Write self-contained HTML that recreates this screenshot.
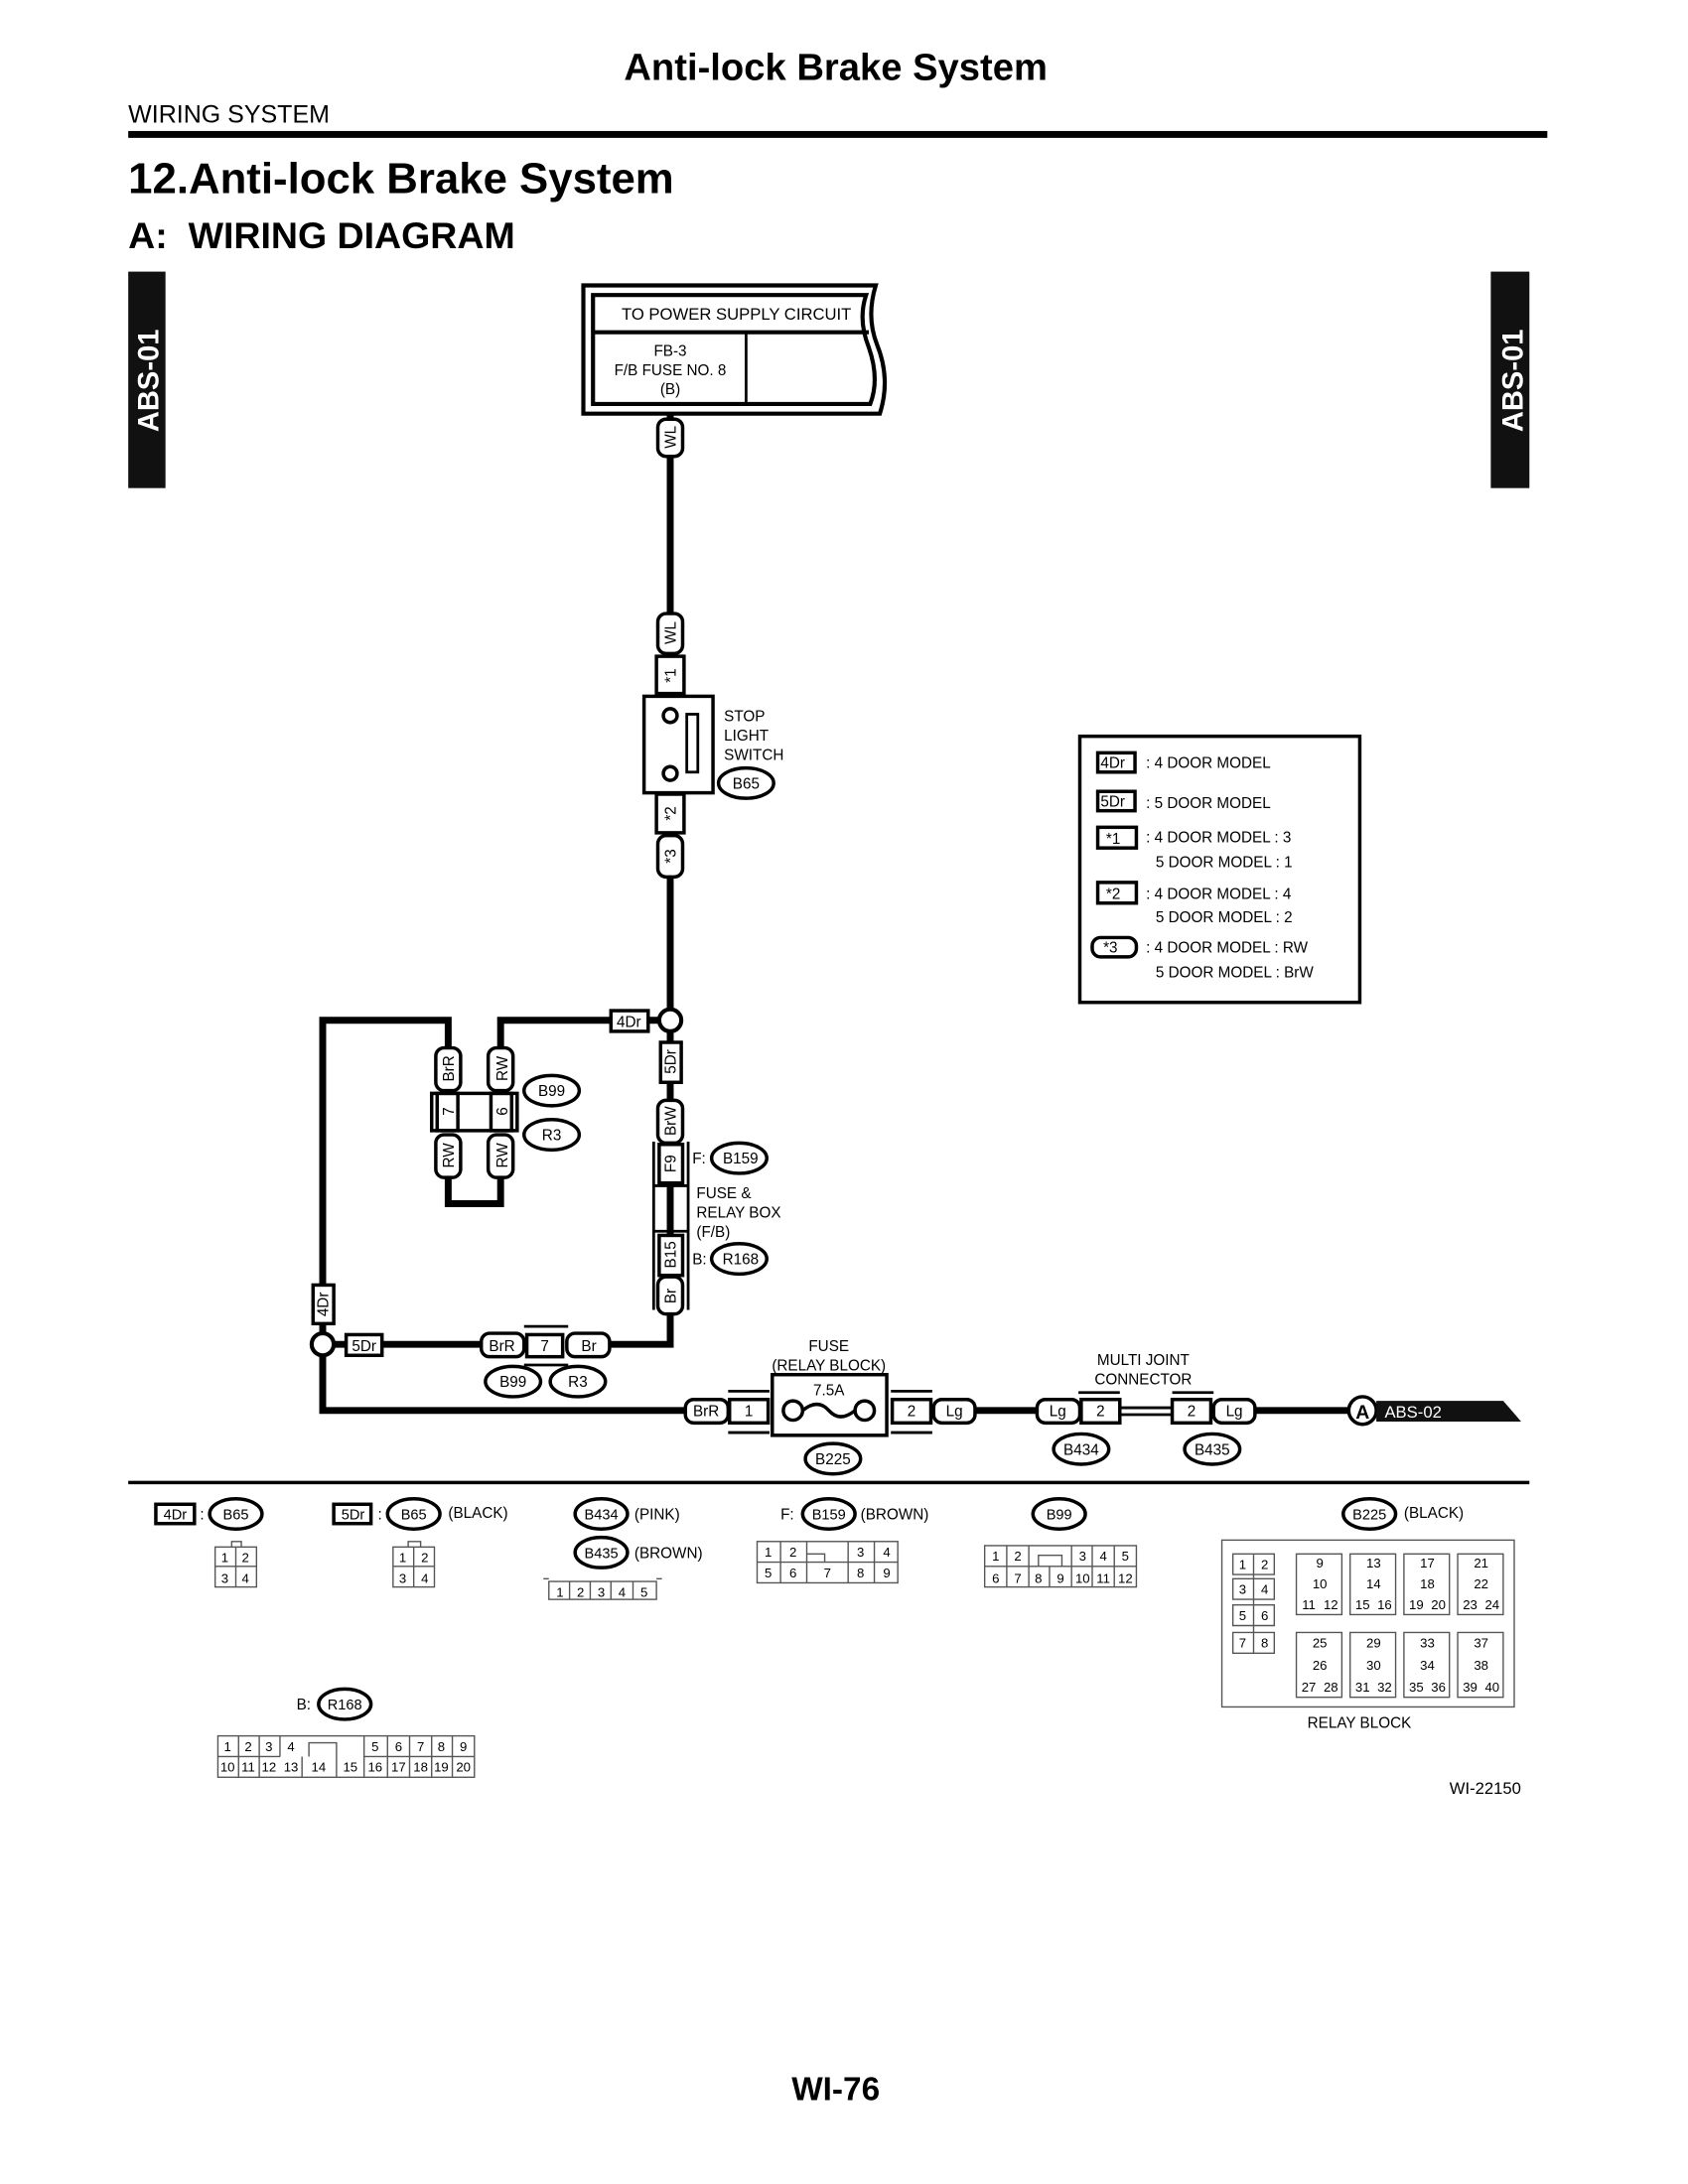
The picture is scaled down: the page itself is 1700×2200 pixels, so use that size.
<!DOCTYPE html>
<html><head><meta charset="utf-8"><style>
html,body{margin:0;padding:0;background:#fff}
svg{display:block}
text{font-family:"Liberation Sans",Arial,sans-serif;fill:#000}
</style></head><body>
<svg width="1700" height="2200" viewBox="0 0 1224 1584" preserveAspectRatio="none" xmlns="http://www.w3.org/2000/svg">
<rect width="1224" height="1584" fill="#fff"/>
<!-- header -->
<text x="606" y="58" font-size="27.5" font-weight="bold" text-anchor="middle">Anti-lock Brake System</text>
<text x="93" y="89" font-size="18">WIRING SYSTEM</text>
<rect x="93" y="95" width="1029" height="5" fill="#000"/>
<text x="93" y="140" font-size="31.5" font-weight="bold">12.Anti-lock Brake System</text>
<text x="93" y="180" font-size="27" font-weight="bold" xml:space="preserve">A:  WIRING DIAGRAM</text>
<rect x="93" y="197" width="27" height="157" fill="#111"/>
<text transform="translate(115,276) rotate(-90)" font-size="21" font-weight="bold" text-anchor="middle" style="fill:#fff">ABS-01</text>
<rect x="1081" y="197" width="28" height="157" fill="#111"/>
<text transform="translate(1104,276) rotate(-90)" font-size="21" font-weight="bold" text-anchor="middle" style="fill:#fff">ABS-01</text>

<g fill="none" stroke="#000">
<!-- power box -->
<path d="M423 300 V207 H635 Q628 230 636 250 Q646 275 638 300 Z" stroke-width="3"/>
<path d="M430 293 V214 H628 Q622 232 630 252 Q638 275 631 293 Z" stroke-width="3"/>
<line x1="430" y1="241" x2="630" y2="241" stroke-width="3"/>
<line x1="541" y1="241" x2="541" y2="293" stroke-width="2"/>
<!-- main wires -->
<g stroke-width="5">
<path d="M486 300 V740"/>
<path d="M486 740 H363 V762"/>
<path d="M325 762 V740 H234 V1023 H500"/>
<path d="M325 850 V873 H363 V850"/>
<path d="M486 740 V975 H440"/>
<path d="M234 975 H352"/>
<path d="M704 1023 H754"/>
<path d="M907 1023 H980"/>
</g>
</g>
<!-- pills vertical -->
<g fill="#fff" stroke="#000" stroke-width="2.5">
<rect x="477" y="304" width="18" height="27" rx="6"/>
<rect x="477" y="445" width="18" height="29" rx="6"/>
<rect x="477" y="606" width="18" height="30" rx="6"/>
<rect x="316" y="760" width="18" height="31" rx="6"/>
<rect x="354" y="760" width="18" height="31" rx="6"/>
<rect x="316" y="823" width="18" height="31" rx="6"/>
<rect x="354" y="823" width="18" height="31" rx="6"/>
<rect x="477" y="798" width="18" height="31" rx="6"/>
<rect x="477" y="926" width="18" height="27" rx="6"/>
<!-- horizontal pills -->
<rect x="349" y="967" width="31" height="17" rx="6"/>
<rect x="411" y="967" width="31" height="17" rx="6"/>
<rect x="497" y="1015" width="31" height="17" rx="6"/>
<rect x="677" y="1015" width="30" height="17" rx="6"/>
<rect x="752" y="1015" width="31" height="17" rx="6"/>
<rect x="880" y="1015" width="30" height="17" rx="6"/>
<!-- boxes -->
<rect x="476" y="476" width="20" height="27"/>
<rect x="476" y="576" width="20" height="28"/>
<rect x="467" y="505" width="50" height="70"/>
<rect x="443" y="733" width="27" height="15"/>
<rect x="479" y="756" width="15" height="29"/>
<rect x="227" y="932" width="15" height="28"/>
<rect x="251" y="968" width="26" height="15"/>
<rect x="313" y="793" width="62" height="27" fill="none"/>
<rect x="317" y="793" width="15" height="27" fill="none"/>
<rect x="356" y="793" width="15" height="27" fill="none"/>
<rect x="478" y="830" width="17" height="28"/>
<rect x="478" y="896" width="17" height="29"/>
<rect x="382" y="968" width="26" height="16"/>
<rect x="529" y="1015" width="28" height="17"/>
<rect x="647" y="1015" width="28" height="17"/>
<rect x="784" y="1015" width="28" height="17"/>
<rect x="850" y="1015" width="28" height="17"/>
</g>
<g fill="none" stroke="#000" stroke-width="2">
<rect x="498" y="518" width="8" height="42"/>
<circle cx="486" cy="519" r="5" fill="#fff" stroke-width="2.5"/>
<circle cx="486" cy="561" r="5" fill="#fff" stroke-width="2.5"/>
<path d="M474 828 V950 M499 828 V950 M474 860 H499 M474 893 H499 M486 862 V891"/>
<path d="M380 962 H412 M380 990 H412 M528 1009 H558 M528 1039 H558 M646 1009 H676 M646 1039 H676 M812 1021 H850 M812 1026 H850 M782 1010 H812 M850 1010 H880"/>
<rect x="560" y="997" width="83" height="44" stroke-width="2.5"/>
<circle cx="575" cy="1023" r="7" stroke-width="2.5"/>
<circle cx="627" cy="1023" r="7" stroke-width="2.5"/>
<path d="M582 1023 Q593 1014 601 1023 Q609 1032 620 1023" stroke-width="2.5"/>
<rect x="783" y="534" width="203" height="193" stroke-width="2.5"/>
</g>
<circle cx="486" cy="740" r="8" fill="#fff" stroke="#000" stroke-width="3"/>
<circle cx="234" cy="975" r="8" fill="#fff" stroke="#000" stroke-width="3"/>
<circle cx="988" cy="1023" r="10" fill="#fff" stroke="#000" stroke-width="2.5"/>
<path d="M998 1016 H1090 L1103 1031 H998 Z" fill="#111"/>
<!-- ellipses -->
<g fill="#fff" stroke="#000" stroke-width="2.5">
<ellipse cx="541" cy="568" rx="20" ry="11"/>
<ellipse cx="400" cy="791" rx="20" ry="11"/>
<ellipse cx="400" cy="823" rx="20" ry="11"/>
<ellipse cx="536" cy="840" rx="20" ry="11"/>
<ellipse cx="536" cy="913" rx="20" ry="11"/>
<ellipse cx="372" cy="1002" rx="20" ry="11"/>
<ellipse cx="419" cy="1002" rx="20" ry="11"/>
<ellipse cx="604" cy="1058" rx="20" ry="11"/>
<ellipse cx="784" cy="1051" rx="20" ry="11"/>
<ellipse cx="879" cy="1051" rx="20" ry="11"/>
</g>
<g font-size="11" text-anchor="middle">
<text x="534" y="232" font-size="12">TO POWER SUPPLY CIRCUIT</text>
<text x="486" y="258">FB-3</text><text x="486" y="272">F/B FUSE NO. 8</text><text x="486" y="286">(B)</text>
<text transform="translate(490,317) rotate(-90)" text-anchor="middle">WL</text>
<text transform="translate(490,459) rotate(-90)" text-anchor="middle">WL</text>
<text transform="translate(490,490) rotate(-90)" text-anchor="middle">*1</text>
<text transform="translate(490,590) rotate(-90)" text-anchor="middle">*2</text>
<text transform="translate(490,621) rotate(-90)" text-anchor="middle">*3</text>
<text x="456" y="745">4Dr</text>
<text transform="translate(490,770) rotate(-90)" text-anchor="middle">5Dr</text>
<text transform="translate(490,813) rotate(-90)" text-anchor="middle">BrW</text>
<text transform="translate(490,844) rotate(-90)" text-anchor="middle">F9</text>
<text transform="translate(490,910) rotate(-90)" text-anchor="middle">B15</text>
<text transform="translate(490,940) rotate(-90)" text-anchor="middle">Br</text>
<text transform="translate(329,775) rotate(-90)" text-anchor="middle">BrR</text>
<text transform="translate(368,775) rotate(-90)" text-anchor="middle">RW</text>
<text transform="translate(329,806) rotate(-90)" text-anchor="middle">7</text>
<text transform="translate(368,806) rotate(-90)" text-anchor="middle">6</text>
<text transform="translate(329,838) rotate(-90)" text-anchor="middle">RW</text>
<text transform="translate(368,838) rotate(-90)" text-anchor="middle">RW</text>
<text transform="translate(238,946) rotate(-90)" text-anchor="middle">4Dr</text>
<text x="264" y="980">5Dr</text>
<text x="364" y="980">BrR</text><text x="395" y="980">7</text><text x="427" y="980">Br</text>
<text x="400" y="795">B99</text><text x="400" y="827">R3</text>
<text x="372" y="1006">B99</text><text x="419" y="1006">R3</text>
<text x="541" y="572">B65</text>
<text x="537" y="844">B159</text><text x="537" y="917">R168</text>
<text x="512" y="1027">BrR</text><text x="543" y="1027">1</text><text x="661" y="1027">2</text><text x="692" y="1027">Lg</text>
<text x="767" y="1027">Lg</text><text x="798" y="1027">2</text><text x="864" y="1027">2</text><text x="895" y="1027">Lg</text>
<text x="601" y="1012">7.5A</text>
<text x="601" y="980">FUSE</text><text x="601" y="994">(RELAY BLOCK)</text>
<text x="829" y="990">MULTI JOINT</text><text x="829" y="1004">CONNECTOR</text>
<text x="604" y="1062">B225</text><text x="784" y="1055">B434</text><text x="879" y="1055">B435</text>
<text x="988" y="1029" font-size="14" font-weight="bold">A</text>
</g>
<g font-size="11">
<text x="525" y="523">STOP</text><text x="525" y="537">LIGHT</text><text x="525" y="551">SWITCH</text>
<text x="502" y="844">F:</text><text x="502" y="917">B:</text>
<text x="505" y="869">FUSE &amp;</text><text x="505" y="883">RELAY BOX</text><text x="505" y="897">(F/B)</text>
<text x="1004" y="1028" style="fill:#fff" font-size="12">ABS-02</text>
</g>
<!-- legend -->
<g fill="#fff" stroke="#000" stroke-width="2.5">
<rect x="796" y="546" width="27" height="14"/>
<rect x="796" y="574" width="27" height="14"/>
<rect x="796" y="600" width="28" height="15"/>
<rect x="796" y="640" width="28" height="15"/>
<rect x="792" y="680" width="32" height="14" rx="6"/>
</g>
<g font-size="11">
<text x="798" y="557">4Dr</text><text x="798" y="585">5Dr</text>
<text x="802" y="612">*1</text><text x="802" y="652">*2</text><text x="800" y="691">*3</text>
<text x="831" y="557">: 4 DOOR MODEL</text>
<text x="831" y="586">: 5 DOOR MODEL</text>
<text x="831" y="611">: 4 DOOR MODEL : 3</text><text x="838" y="629">5 DOOR MODEL : 1</text>
<text x="831" y="652">: 4 DOOR MODEL : 4</text><text x="838" y="669">5 DOOR MODEL : 2</text>
<text x="831" y="691">: 4 DOOR MODEL : RW</text><text x="838" y="709">5 DOOR MODEL : BrW</text>
</g>
<rect x="93" y="1074" width="1016" height="2.5" fill="#000"/>
<!-- bottom connector section -->
<g fill="#fff" stroke="#000" stroke-width="2.5">
<rect x="113" y="1091" width="28" height="14"/>
<rect x="242" y="1091" width="27" height="14"/>
<ellipse cx="171" cy="1098" rx="19" ry="11"/>
<ellipse cx="300" cy="1098" rx="19" ry="11"/>
<ellipse cx="436" cy="1098" rx="19" ry="11"/>
<ellipse cx="436" cy="1126" rx="19" ry="11"/>
<ellipse cx="601" cy="1098" rx="19" ry="11"/>
<ellipse cx="768" cy="1098" rx="19" ry="11"/>
<ellipse cx="993" cy="1098" rx="19" ry="11"/>
<ellipse cx="250" cy="1236" rx="19" ry="11"/>
</g>
<g font-size="10.5" text-anchor="middle">
<text x="127" y="1102">4Dr</text><text x="256" y="1102">5Dr</text>
<text x="171" y="1102">B65</text><text x="300" y="1102">B65</text>
<text x="436" y="1102">B434</text><text x="436" y="1130">B435</text>
<text x="601" y="1102">B159</text><text x="768" y="1102">B99</text><text x="993" y="1102">B225</text>
<text x="250" y="1240">R168</text>
</g>
<g font-size="11">
<text x="145" y="1102">:</text><text x="274" y="1102">:</text>
<text x="325" y="1101">(BLACK)</text><text x="460" y="1102">(PINK)</text><text x="460" y="1130">(BROWN)</text>
<text x="566" y="1102">F:</text><text x="624" y="1102">(BROWN)</text><text x="1018" y="1101">(BLACK)</text>
<text x="215" y="1240">B:</text>
<text x="948" y="1253">RELAY BLOCK</text>
<text x="1103" y="1301" text-anchor="end" font-size="12">WI-22150</text>
</g>
<g fill="none" stroke="#555" stroke-width="1">
<rect x="156" y="1122" width="30" height="29"/><path d="M171 1122 V1151 M156 1136 H186 M168 1122 V1118 H175 V1122"/>
<rect x="285" y="1122" width="30" height="29"/><path d="M300 1122 V1151 M285 1136 H315 M296 1122 V1118 H305 V1122"/>
<rect x="398" y="1147" width="78" height="13"/><path d="M413 1147V1160 M428 1147V1160 M443 1147V1160 M459 1147V1160 M394 1145 H398 M476 1145 H480"/>
<rect x="549" y="1118" width="102" height="30"/><path d="M549 1133 H651 M566 1118V1148 M585 1118V1148 M615 1118V1148 M634 1118V1148 M585 1133 V1127 H598 V1133"/>
<rect x="714" y="1121" width="110" height="30"/><path d="M714 1136 H824 M730 1121V1151 M746 1121V1151 M761 1136V1151 M777 1121V1151 M792 1121V1151 M808 1121V1151 M753 1136V1128H770V1136"/>
<rect x="158" y="1259" width="186" height="30"/><path d="M158 1274 H203 M264 1274 H344 M173 1259V1289 M188 1259V1289 M203 1259V1274 M219 1274V1289 M244 1274V1289 M264 1259V1289 M281 1259V1289 M297 1259V1289 M313 1259V1289 M328 1259V1289 M224 1274 V1264 H244 V1274"/>
<rect x="886" y="1117" width="212" height="121"/>
<path d="M894 1127h30v15h-30z M894 1145h30v15h-30z M894 1164h30v15h-30z M894 1184h30v15h-30z M909 1127v72"/>
<path d="M940 1127h33v44h-33z M979 1127h33v44h-33z M1018 1127h33v44h-33z M1057 1127h33v44h-33z"/>
<path d="M940 1184h33v47h-33z M979 1184h33v47h-33z M1018 1184h33v47h-33z M1057 1184h33v47h-33z"/>
</g>
<g font-size="9.5" text-anchor="middle" fill="#333">
<text x="163" y="1133">1</text><text x="178" y="1133">2</text><text x="163" y="1148">3</text><text x="178" y="1148">4</text>
<text x="292" y="1133">1</text><text x="308" y="1133">2</text><text x="292" y="1148">3</text><text x="308" y="1148">4</text>
<text x="406" y="1158">1</text><text x="421" y="1158">2</text><text x="436" y="1158">3</text><text x="451" y="1158">4</text><text x="467" y="1158">5</text>
<text x="557" y="1129">1</text><text x="575" y="1129">2</text><text x="624" y="1129">3</text><text x="643" y="1129">4</text>
<text x="557" y="1144">5</text><text x="575" y="1144">6</text><text x="600" y="1144">7</text><text x="624" y="1144">8</text><text x="643" y="1144">9</text>
<text x="722" y="1132">1</text><text x="738" y="1132">2</text><text x="785" y="1132">3</text><text x="800" y="1132">4</text><text x="816" y="1132">5</text>
<text x="722" y="1148">6</text><text x="738" y="1148">7</text><text x="753" y="1148">8</text><text x="769" y="1148">9</text><text x="785" y="1148">10</text><text x="800" y="1148">11</text><text x="816" y="1148">12</text>
<text x="165" y="1270">1</text><text x="180" y="1270">2</text><text x="195" y="1270">3</text><text x="211" y="1270">4</text>
<text x="272" y="1270">5</text><text x="289" y="1270">6</text><text x="305" y="1270">7</text><text x="320" y="1270">8</text><text x="336" y="1270">9</text>
<text x="165" y="1285">10</text><text x="180" y="1285">11</text><text x="195" y="1285">12</text><text x="211" y="1285">13</text><text x="231" y="1285">14</text><text x="254" y="1285">15</text>
<text x="272" y="1285">16</text><text x="289" y="1285">17</text><text x="305" y="1285">18</text><text x="320" y="1285">19</text><text x="336" y="1285">20</text>
<text x="901" y="1138">1</text><text x="917" y="1138">2</text><text x="901" y="1156">3</text><text x="917" y="1156">4</text>
<text x="901" y="1175">5</text><text x="917" y="1175">6</text><text x="901" y="1195">7</text><text x="917" y="1195">8</text>
<text x="957" y="1137">9</text><text x="957" y="1152">10</text><text x="949" y="1167">11</text><text x="965" y="1167">12</text>
<text x="996" y="1137">13</text><text x="996" y="1152">14</text><text x="988" y="1167">15</text><text x="1004" y="1167">16</text>
<text x="1035" y="1137">17</text><text x="1035" y="1152">18</text><text x="1027" y="1167">19</text><text x="1043" y="1167">20</text>
<text x="1074" y="1137">21</text><text x="1074" y="1152">22</text><text x="1066" y="1167">23</text><text x="1082" y="1167">24</text>
<text x="957" y="1195">25</text><text x="957" y="1211">26</text><text x="949" y="1227">27</text><text x="965" y="1227">28</text>
<text x="996" y="1195">29</text><text x="996" y="1211">30</text><text x="988" y="1227">31</text><text x="1004" y="1227">32</text>
<text x="1035" y="1195">33</text><text x="1035" y="1211">34</text><text x="1027" y="1227">35</text><text x="1043" y="1227">36</text>
<text x="1074" y="1195">37</text><text x="1074" y="1211">38</text><text x="1066" y="1227">39</text><text x="1082" y="1227">40</text>
</g>
<text x="606" y="1523" font-size="24" font-weight="bold" text-anchor="middle">WI-76</text>
</svg>
</body></html>
